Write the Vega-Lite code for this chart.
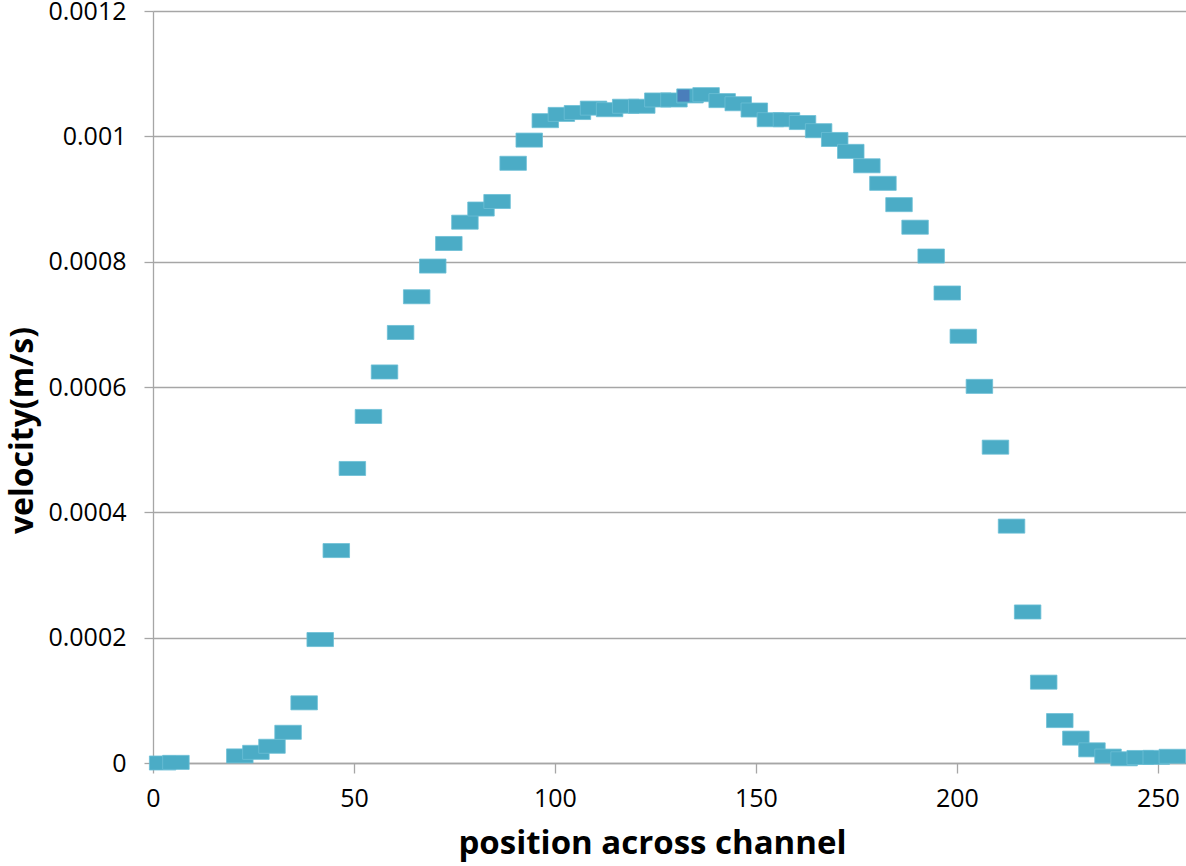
{
  "$schema": "https://vega.github.io/schema/vega-lite/v6.json",
  "autosize": {"type": "none"},
  "padding": {"left": 153, "top": 11, "right": 0, "bottom": 103},
  "width": 1033,
  "height": 752,
  "background": "white",
  "config": {
    "view": {"stroke": null},
    "axis": {"labelFont": "Open Sans", "titleFont": "Open Sans", "labelColor": "#000000", "titleColor": "#000000", "labelFlush": false, "labelOverlap": false}
  },
  "datasets": {
    "main": [
      {"position": 2.4, "velocity": 0},
      {"position": 5.7, "velocity": 0.000001},
      {"position": 21.6, "velocity": 0.0000113},
      {"position": 25.6, "velocity": 0.000017},
      {"position": 29.6, "velocity": 0.0000267},
      {"position": 33.6, "velocity": 0.000049},
      {"position": 37.6, "velocity": 0.000096},
      {"position": 41.6, "velocity": 0.000197},
      {"position": 45.6, "velocity": 0.000339},
      {"position": 49.6, "velocity": 0.00047},
      {"position": 53.6, "velocity": 0.000553},
      {"position": 57.6, "velocity": 0.000624},
      {"position": 61.6, "velocity": 0.000687},
      {"position": 65.6, "velocity": 0.000744},
      {"position": 69.6, "velocity": 0.000793},
      {"position": 73.6, "velocity": 0.000829},
      {"position": 77.6, "velocity": 0.000863},
      {"position": 81.6, "velocity": 0.000884},
      {"position": 85.6, "velocity": 0.000896},
      {"position": 89.6, "velocity": 0.000957},
      {"position": 93.6, "velocity": 0.000994},
      {"position": 97.6, "velocity": 0.001025},
      {"position": 101.6, "velocity": 0.001035},
      {"position": 105.6, "velocity": 0.001038},
      {"position": 109.6, "velocity": 0.001045},
      {"position": 113.6, "velocity": 0.0010425},
      {"position": 117.6, "velocity": 0.001048},
      {"position": 121.6, "velocity": 0.001048},
      {"position": 125.6, "velocity": 0.001058},
      {"position": 129.6, "velocity": 0.001058},
      {"position": 133.6, "velocity": 0.0010645},
      {"position": 137.6, "velocity": 0.0010665},
      {"position": 141.6, "velocity": 0.001057},
      {"position": 145.6, "velocity": 0.001052},
      {"position": 149.6, "velocity": 0.001042},
      {"position": 153.6, "velocity": 0.0010265},
      {"position": 157.6, "velocity": 0.0010265},
      {"position": 161.6, "velocity": 0.001022},
      {"position": 165.6, "velocity": 0.001009},
      {"position": 169.6, "velocity": 0.000995},
      {"position": 173.6, "velocity": 0.000976},
      {"position": 177.6, "velocity": 0.000953},
      {"position": 181.6, "velocity": 0.000925},
      {"position": 185.6, "velocity": 0.000891},
      {"position": 189.6, "velocity": 0.000855},
      {"position": 193.6, "velocity": 0.000809},
      {"position": 197.6, "velocity": 0.00075},
      {"position": 201.6, "velocity": 0.000681},
      {"position": 205.6, "velocity": 0.000601},
      {"position": 209.6, "velocity": 0.000504},
      {"position": 213.6, "velocity": 0.000378},
      {"position": 217.6, "velocity": 0.000241},
      {"position": 221.6, "velocity": 0.000129},
      {"position": 225.6, "velocity": 0.0000677},
      {"position": 229.6, "velocity": 0.0000397},
      {"position": 233.6, "velocity": 0.000021},
      {"position": 237.6, "velocity": 0.000011},
      {"position": 241.6, "velocity": 0.0000067},
      {"position": 245.6, "velocity": 0.0000088},
      {"position": 249.6, "velocity": 0.000009},
      {"position": 253.6, "velocity": 0.0000107}
    ],
    "peak": [
      {"position": 132.0, "velocity": 0.001065}
    ]
  },
  "layer": [
    {
      "data": {"name": "main"},
      "mark": {"type": "point", "filled": true, "opacity": 1, "shape": "M-1,-0.53H1V0.53H-1Z", "size": 702, "color": "#4BACC6", "stroke": "#6cbfd6", "strokeWidth": 0.8},
      "encoding": {
        "x": {
          "field": "position", "type": "quantitative",
          "scale": {"domain": [0, 257], "nice": false, "zero": false},
          "axis": {
            "values": [0, 50, 100, 150, 200, 250],
            "grid": false,
            "domainColor": "#A6A6A6", "domainWidth": 1.3,
            "tickColor": "#A6A6A6", "tickSize": 10, "tickWidth": 1.3,
            "labelFontSize": 25, "labelPadding": 13,
            "title": "position across channel",
            "titleFontSize": 33, "titleFontWeight": "bold", "titlePadding": 16,
            "titleX": 499, "titleAlign": "center"
          }
        },
        "y": {
          "field": "velocity", "type": "quantitative",
          "scale": {"domain": [0, 0.0012], "nice": false},
          "axis": {
            "values": [0, 0.0002, 0.0004, 0.0006, 0.0008, 0.001, 0.0012],
            "format": "~g",
            "grid": true, "gridColor": "#A6A6A6", "gridWidth": 1.3,
            "domainColor": "#A6A6A6", "domainWidth": 1.3,
            "tickColor": "#A6A6A6", "tickSize": 9, "tickWidth": 1.3,
            "labelFontSize": 25, "labelPadding": 18,
            "title": "velocity(m/s)",
            "titleFontSize": 32, "titleFontWeight": "bold",
            "titleX": -131, "titleY": 419, "titleAngle": -90, "titleBaseline": "middle", "titleAlign": "center"
          }
        }
      }
    },
    {
      "data": {"name": "peak"},
      "mark": {"type": "point", "filled": true, "opacity": 1, "shape": "square", "size": 140, "color": "#4A7EBB"},
      "encoding": {
        "x": {"field": "position", "type": "quantitative"},
        "y": {"field": "velocity", "type": "quantitative"}
      }
    }
  ]
}
